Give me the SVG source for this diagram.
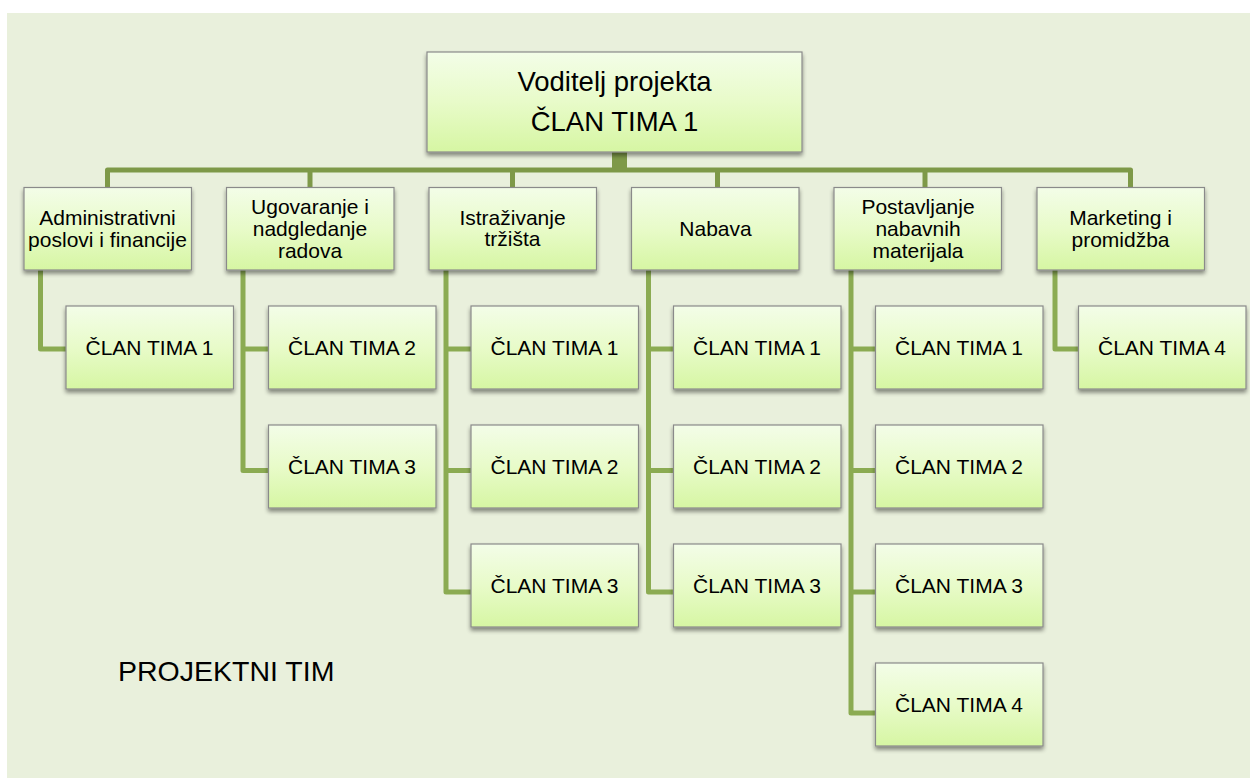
<svg xmlns="http://www.w3.org/2000/svg" width="1250" height="778" viewBox="0 0 1250 778">
<defs>
<linearGradient id="g" x1="0" y1="0" x2="0" y2="1">
<stop offset="0" stop-color="#f3fde8"/>
<stop offset="0.5" stop-color="#e8fbc9"/>
<stop offset="1" stop-color="#d6f6a3"/>
</linearGradient>
<filter id="sh" x="-10%" y="-10%" width="120%" height="130%">
<feGaussianBlur in="SourceAlpha" stdDeviation="2"/>
<feOffset dx="0" dy="3" result="b"/>
<feComponentTransfer><feFuncA type="linear" slope="0.45"/></feComponentTransfer>
<feMerge><feMergeNode/><feMergeNode in="SourceGraphic"/></feMerge>
</filter>
<style>
.box{fill:url(#g);stroke:#8a8a8a;stroke-width:1.2;filter:url(#sh)}
.t{font-family:"Liberation Sans",Arial,sans-serif;font-size:21px;fill:#000;text-anchor:middle}
.top{font-size:27.5px}
.main{fill:none;stroke:#7e9948;stroke-width:5;stroke-linejoin:round}
.sub{fill:none;stroke:#8bab52;stroke-width:5;stroke-linejoin:round}
</style>
</defs>
<rect x="7" y="13" width="1243" height="765" fill="#e9f0dc"/>

<g id="connectors">
<rect x="612" y="150" width="15" height="19" fill="#7e9948"/>
<path class="main" d="M107.5 190 V170 H1130.5 V190"/>
<path class="main" d="M310 170 V190 M512.5 170 V190 M717.5 170 V190 M925 170 V190"/>
<path class="sub" d="M40.5 268 V349 H68"/>
<path class="sub" d="M243 268 V470.5 H270 M243 349 H270"/>
<path class="sub" d="M446 268 V592 H473 M446 349 H473 M446 470.5 H473"/>
<path class="sub" d="M648.5 268 V592 H675 M648.5 349 H675 M648.5 470.5 H675"/>
<path class="sub" d="M851 268 V713 H877 M851 349 H877 M851 470.5 H877 M851 592 H877"/>
<path class="sub" d="M1055 268 V349 H1080"/>
</g>

<g id="n-top"><rect class="box" x="427" y="52" width="375" height="100"/>
<text class="t top" x="614.5" y="91">Voditelj projekta</text>
<text class="t top" x="614.5" y="131">ČLAN TIMA 1</text></g>

<g id="n-admin"><rect class="box" x="24" y="187.5" width="167.5" height="82.5"/>
<text class="t" x="107.5" y="224.5">Administrativni</text>
<text class="t" x="107.5" y="246.5">poslovi i financije</text></g>
<g id="n-ugov"><rect class="box" x="226.5" y="187.5" width="167.5" height="82.5"/>
<text class="t" x="310" y="213.5">Ugovaranje i</text>
<text class="t" x="310" y="235.5">nadgledanje</text>
<text class="t" x="310" y="257.5">radova</text></g>
<g id="n-istr"><rect class="box" x="429" y="187.5" width="167.5" height="82.5"/>
<text class="t" x="512.5" y="224.5">Istraživanje</text>
<text class="t" x="512.5" y="246">tržišta</text></g>
<g id="n-nab"><rect class="box" x="631.5" y="187.5" width="167.5" height="82.5"/>
<text class="t" x="715.5" y="235.5">Nabava</text></g>
<g id="n-post"><rect class="box" x="834" y="187.5" width="167.5" height="82.5"/>
<text class="t" x="918" y="213.5">Postavljanje</text>
<text class="t" x="918" y="235.5">nabavnih</text>
<text class="t" x="918" y="257.5">materijala</text></g>
<g id="n-mark"><rect class="box" x="1037" y="187.5" width="167.5" height="82.5"/>
<text class="t" x="1120.5" y="224.5">Marketing i</text>
<text class="t" x="1120.5" y="246.5">promidžba</text></g>

<g id="n-g1-1"><rect class="box" x="66" y="306" width="167.5" height="83"/><text class="t" x="149.5" y="355">ČLAN TIMA 1</text></g>

<g id="n-g2-1"><rect class="box" x="268.5" y="306" width="167.5" height="83"/><text class="t" x="352" y="355">ČLAN TIMA 2</text></g>
<g id="n-g2-2"><rect class="box" x="268.5" y="425" width="167.5" height="83"/><text class="t" x="352" y="474">ČLAN TIMA 3</text></g>

<g id="n-g3-1"><rect class="box" x="471" y="306" width="167.5" height="83"/><text class="t" x="554.5" y="355">ČLAN TIMA 1</text></g>
<g id="n-g3-2"><rect class="box" x="471" y="425" width="167.5" height="83"/><text class="t" x="554.5" y="474">ČLAN TIMA 2</text></g>
<g id="n-g3-3"><rect class="box" x="471" y="544" width="167.5" height="83"/><text class="t" x="554.5" y="593">ČLAN TIMA 3</text></g>

<g id="n-g4-1"><rect class="box" x="673.5" y="306" width="167.5" height="83"/><text class="t" x="757" y="355">ČLAN TIMA 1</text></g>
<g id="n-g4-2"><rect class="box" x="673.5" y="425" width="167.5" height="83"/><text class="t" x="757" y="474">ČLAN TIMA 2</text></g>
<g id="n-g4-3"><rect class="box" x="673.5" y="544" width="167.5" height="83"/><text class="t" x="757" y="593">ČLAN TIMA 3</text></g>

<g id="n-g5-1"><rect class="box" x="875.5" y="306" width="167.5" height="83"/><text class="t" x="959" y="355">ČLAN TIMA 1</text></g>
<g id="n-g5-2"><rect class="box" x="875.5" y="425" width="167.5" height="83"/><text class="t" x="959" y="474">ČLAN TIMA 2</text></g>
<g id="n-g5-3"><rect class="box" x="875.5" y="544" width="167.5" height="83"/><text class="t" x="959" y="593">ČLAN TIMA 3</text></g>
<g id="n-g5-4"><rect class="box" x="875.5" y="663" width="167.5" height="83"/><text class="t" x="959" y="712">ČLAN TIMA 4</text></g>

<g id="n-g6-1"><rect class="box" x="1078.5" y="306" width="167.5" height="83"/><text class="t" x="1162" y="355">ČLAN TIMA 4</text></g>

<text x="118" y="681" font-family="Liberation Sans, Arial, sans-serif" font-size="28.5" fill="#000">PROJEKTNI TIM</text>
</svg>
